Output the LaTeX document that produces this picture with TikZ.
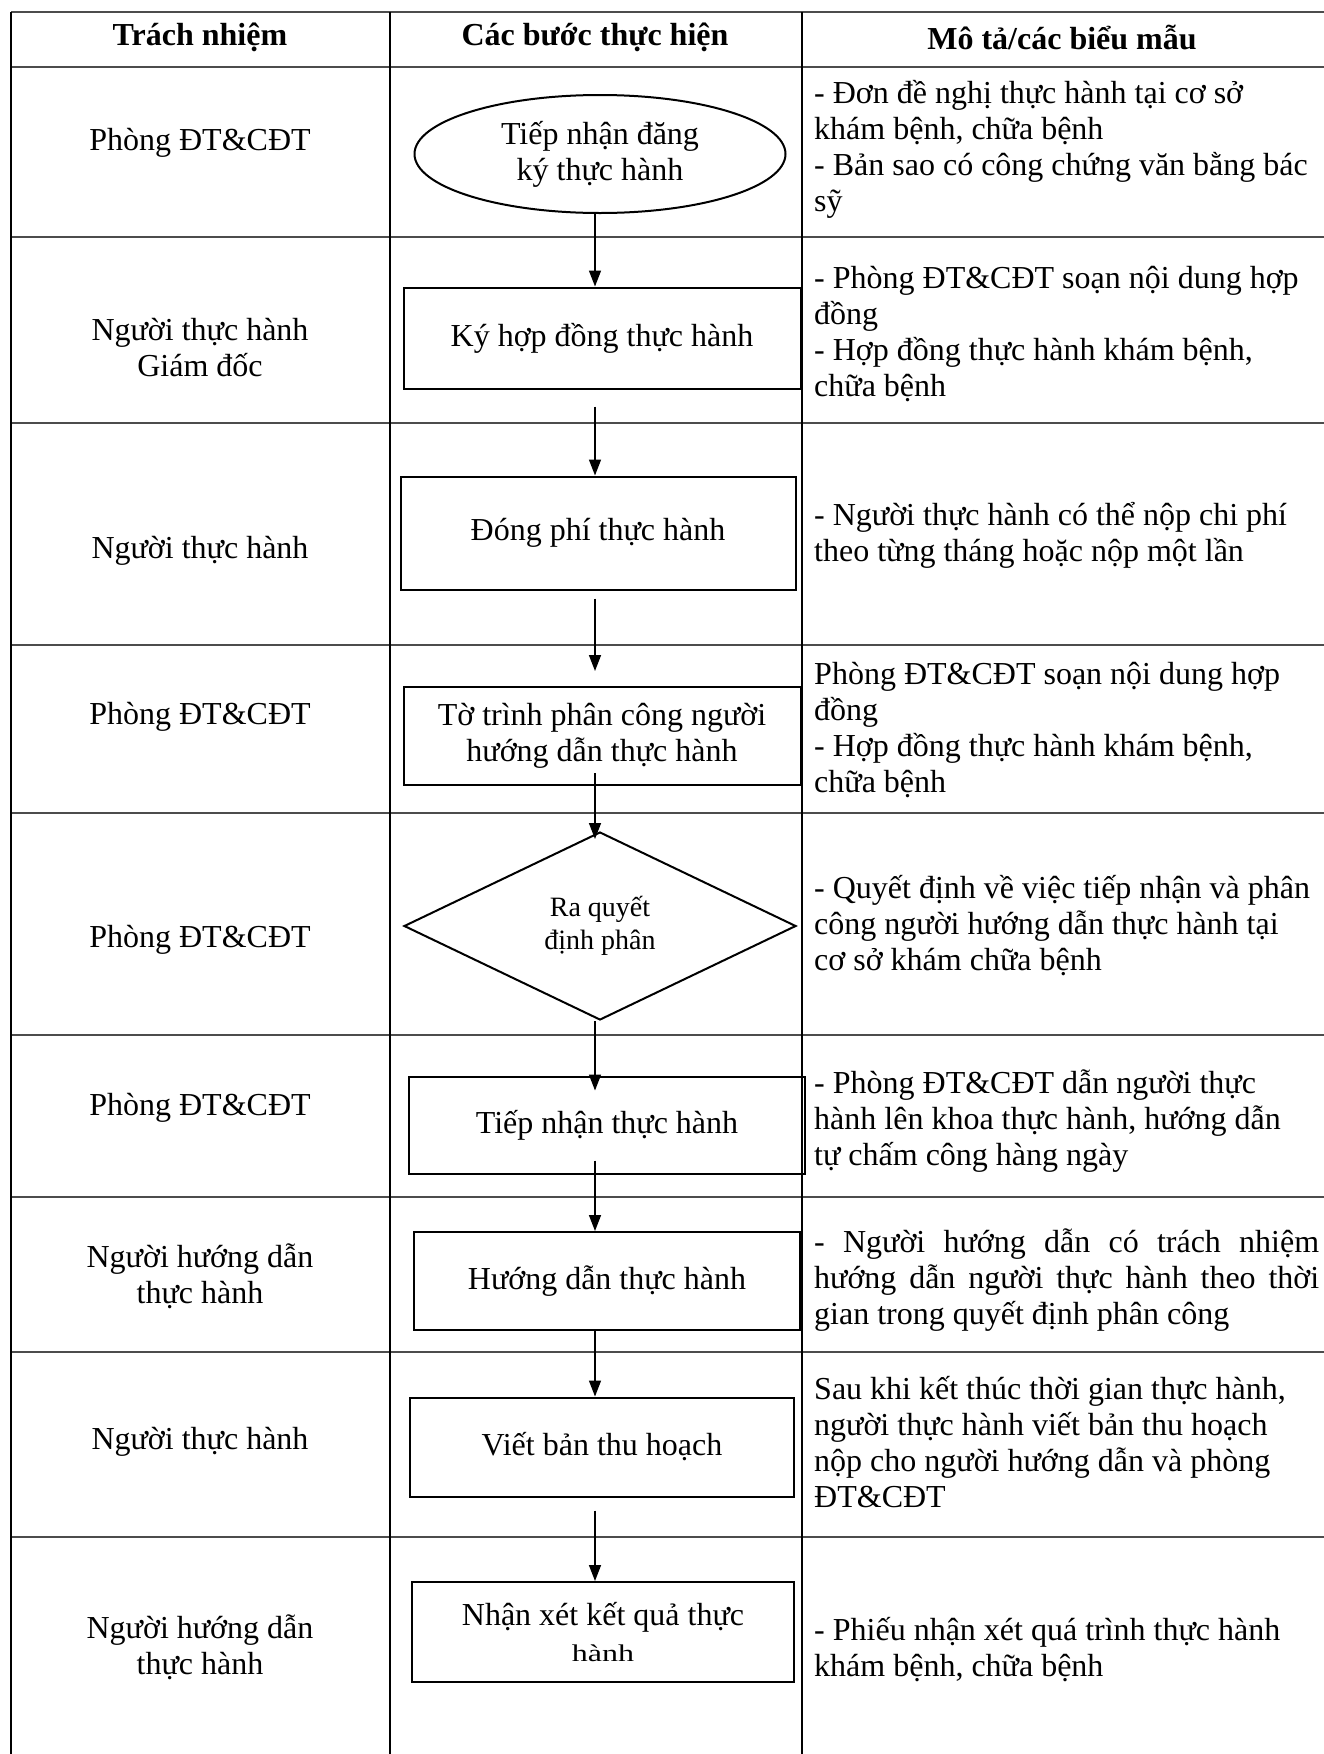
\documentclass[tikz,border=0pt]{standalone}
\usepackage{fontspec}
\setmainfont{Liberation Serif}
\usepackage{graphicx}
\usetikzlibrary{arrows.meta,shapes.geometric}
\newcommand\spreadline[1]{\makebox[505pt][s]{\spaceskip=0.25em plus 1fil\relax #1}}

\begin{document}
\begin{tikzpicture}[
  x=1pt,y=-1pt,
  every node/.style={font=\fontsize{32}{36}\selectfont,align=center,inner sep=0pt,
    execute at begin node={\spaceskip=0pt\xspaceskip=0pt\relax}},
  hdr/.style={font=\fontsize{32}{36}\selectfont\bfseries},
  stepbox/.style={draw,line width=2pt,rectangle},
  rowline/.style={line width=2.5pt,black!70},
  colline/.style={line width=1.4pt},
  desc/.style={anchor=west,align=left,text width=520pt},
  arr/.style={-{Triangle[length=16pt,width=12pt]},line width=1.5pt}
]
  \useasboundingbox (0,0) rectangle (1324,1754);

  % Table grid
  \foreach \y in {12,67,237,423,645,813,1035,1197,1352,1537}
    \draw[rowline] (11,\y) -- (1324,\y);
  \foreach \x in {11,390,802}
    \draw[colline] (\x,12) -- (\x,1754);

  % Header
  \node[hdr] (h1) at (200,37) {Trách nhiệm};
  \node[hdr] (h2) at (595,37) {Các bước thực hiện};
  \node[hdr] (h3) at (1062,37) {Mô tả/các biểu mẫu};

  % Responsibility column
  \node (r1) at (200,143) {Phòng ĐT\&CĐT};
  \node (r2) at (200,348) {Người thực hành\\Giám đốc};
  \node (r3) at (200,551) {Người thực hành};
  \node (r4) at (200,717) {Phòng ĐT\&CĐT};
  \node (r5) at (200,940) {Phòng ĐT\&CĐT};
  \node (r6) at (200,1108) {Phòng ĐT\&CĐT};
  \node (r7) at (200,1276) {Người hướng dẫn\\thực hành};
  \node (r8) at (200,1442) {Người thực hành};
  \node (r9) at (200,1647) {Người hướng dẫn\\thực hành};

  % Steps
  \coordinate (ax) at (595,0);
  \node[draw,ellipse,line width=2pt,minimum width=371pt,minimum height=118pt] (e) at (600,154) {Tiếp nhận đăng\\ký thực hành};
  \node[stepbox,minimum width=397pt,minimum height=101pt] (ky) at (602,338) {Ký hợp đồng thực hành};
  \node[stepbox,minimum width=395pt,minimum height=113pt] (dong) at (598,533) {Đóng phí thực hành};
  \node[stepbox,minimum width=397pt,minimum height=98pt] (to) at (602,736) {Tờ trình phân công người\\hướng dẫn thực hành};
  \node[draw,diamond,line width=2pt,minimum width=392pt,minimum height=188pt,font=\fontsize{28}{33}\selectfont] (d) at (600,926) {Ra quyết\\định phân};
  \node[stepbox,minimum width=396pt,minimum height=97pt] (tiep) at (607,1125) {Tiếp nhận thực hành};
  \node[stepbox,minimum width=386pt,minimum height=98pt] (huong) at (607,1281) {Hướng dẫn thực hành};
  \node[stepbox,minimum width=384pt,minimum height=99pt] (viet) at (602,1447) {Viết bản thu hoạch};
  \node[stepbox,minimum width=382pt,minimum height=100pt] (nhan) at (603,1632) {Nhận xét kết quả thực\\\scalebox{1}[0.75]{hành}};

  \draw[arr] (e.south -| ax) -- (ky.north -| ax);
  \draw[arr] ([yshift=-17pt]ky.south -| ax) -- (dong.north -| ax);
  \draw[arr] ([yshift=-8pt]dong.south -| ax) -- ([yshift=15pt]to.north -| ax);
  \draw[arr] ([yshift=13pt]to.south -| ax) -- ([yshift=-8pt]d.north -| ax);
  \draw[arr] (d.south -| ax) -- ([yshift=-15pt]tiep.north -| ax);
  \draw[arr] ([yshift=14pt]tiep.south -| ax) -- (huong.north -| ax);
  \draw[arr] (huong.south -| ax) -- (viet.north -| ax);
  \draw[arr] ([yshift=-13pt]viet.south -| ax) -- (nhan.north -| ax);

  % Descriptions
  \node[desc] (m1) at (814,149) {- Đơn đề nghị thực hành tại cơ sở\\khám bệnh, chữa bệnh\\- Bản sao có công chứng văn bằng bác\\sỹ};
  \node[desc] (m2) at (814,334) {- Phòng ĐT\&CĐT soạn nội dung hợp\\đồng\\- Hợp đồng thực hành khám bệnh,\\chữa bệnh};
  \node[desc] (m3) at (814,535) {- Người thực hành có thể nộp chi phí\\theo từng tháng hoặc nộp một lần};
  \node[desc] (m4) at (814,730) {Phòng ĐT\&CĐT soạn nội dung hợp\\đồng\\- Hợp đồng thực hành khám bệnh,\\chữa bệnh};
  \node[desc] (m5) at (814,926) {- Quyết định về việc tiếp nhận và phân\\công người hướng dẫn thực hành tại\\cơ sở khám chữa bệnh};
  \node[desc] (m6) at (814,1121) {- Phòng ĐT\&CĐT dẫn người thực\\hành lên khoa thực hành, hướng dẫn\\tự chấm công hàng ngày};
  \node[desc] (m7) at (814,1280) {\spreadline{- Người hướng dẫn có trách nhiệm}\\\spreadline{hướng dẫn người thực hành theo thời}\\gian trong quyết định phân công};
  \node[desc] (m8) at (814,1442) {Sau khi kết thúc thời gian thực hành,\\người thực hành viết bản thu hoạch\\nộp cho người hướng dẫn và phòng\\ĐT\&CĐT};
  \node[desc] (m9) at (814,1650) {- Phiếu nhận xét quá trình thực hành\\khám bệnh, chữa bệnh};
\end{tikzpicture}
\end{document}
